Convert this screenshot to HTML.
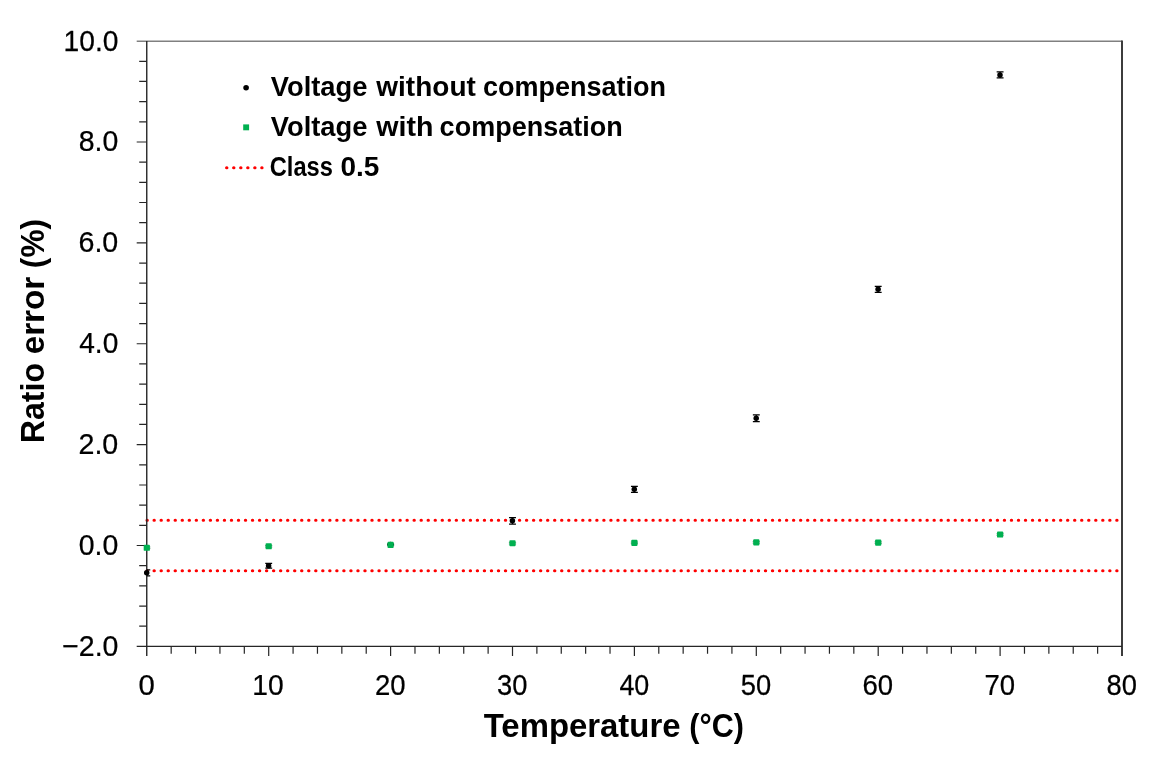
<!DOCTYPE html>
<html lang="en"><head><meta charset="utf-8"><title>Ratio error vs temperature</title>
<style>html,body{margin:0;padding:0;background:#fff}body{width:1161px;height:765px;overflow:hidden}svg{display:block}text{font-family:"Liberation Sans",sans-serif;fill:#000}.tk{font-size:29.0px;stroke:#000;stroke-width:0.25px}.lg{font-size:27.6px;font-weight:bold}.ti{font-size:33.9px;font-weight:bold}</style></head><body>
<svg width="1161" height="765" viewBox="0 0 1161 765">
<rect x="0" y="0" width="1161" height="765" fill="#fff"/>
<path d="M136.7 41.20H1122.0" fill="none" stroke="#808080" stroke-width="1.5"/>
<path d="M147.0 520.30H1121.0" fill="none" stroke="#ff0000" stroke-width="3.1" stroke-linecap="round" stroke-dasharray="0.3 6.727"/>
<path d="M147.0 570.74H1121.0" fill="none" stroke="#ff0000" stroke-width="3.1" stroke-linecap="round" stroke-dasharray="0.3 6.727"/>
<path d="M1122.0 40.5V656.0" fill="none" stroke="#3c3c3c" stroke-width="2"/>
<path d="M146.75 41.1V656.0" fill="none" stroke="#262626" stroke-width="1.4"/>
<path d="M136.7 646.4H1122.0" fill="none" stroke="#262626" stroke-width="1.3"/>
<path d="M139.2 626.22H146.8M139.2 606.05H146.8M139.2 585.87H146.8M139.2 565.69H146.8M136.7 545.52H146.8M139.2 525.34H146.8M139.2 505.16H146.8M139.2 484.99H146.8M139.2 464.81H146.8M136.7 444.63H146.8M139.2 424.46H146.8M139.2 404.28H146.8M139.2 384.10H146.8M139.2 363.93H146.8M136.7 343.75H146.8M139.2 323.57H146.8M139.2 303.40H146.8M139.2 283.22H146.8M139.2 263.04H146.8M136.7 242.87H146.8M139.2 222.69H146.8M139.2 202.51H146.8M139.2 182.34H146.8M139.2 162.16H146.8M136.7 141.98H146.8M139.2 121.81H146.8M139.2 101.63H146.8M139.2 81.45H146.8M139.2 61.28H146.8" fill="none" stroke="#262626" stroke-width="1.2"/>
<path d="M171.18 646.4V653.7M195.56 646.4V653.7M219.94 646.4V653.7M244.32 646.4V653.7M268.70 646.4V656.0M293.08 646.4V653.7M317.46 646.4V653.7M341.84 646.4V653.7M366.22 646.4V653.7M390.60 646.4V656.0M414.98 646.4V653.7M439.36 646.4V653.7M463.74 646.4V653.7M488.12 646.4V653.7M512.50 646.4V656.0M536.88 646.4V653.7M561.26 646.4V653.7M585.64 646.4V653.7M610.02 646.4V653.7M634.40 646.4V656.0M658.78 646.4V653.7M683.16 646.4V653.7M707.54 646.4V653.7M731.92 646.4V653.7M756.30 646.4V656.0M780.68 646.4V653.7M805.06 646.4V653.7M829.44 646.4V653.7M853.82 646.4V653.7M878.20 646.4V656.0M902.58 646.4V653.7M926.96 646.4V653.7M951.34 646.4V653.7M975.72 646.4V653.7M1000.10 646.4V656.0M1024.48 646.4V653.7M1048.86 646.4V653.7M1073.24 646.4V653.7M1097.62 646.4V653.7" fill="none" stroke="#262626" stroke-width="1.2"/>
<clipPath id="pc"><rect x="146.8" y="41.1" width="975.2" height="605.3"/></clipPath>
<g clip-path="url(#pc)" fill="none" stroke="#000" stroke-width="1.25">
<path d="M143.35 569.76h6.9M143.35 575.76h6.9M146.80 569.76v6.00"/>
<path d="M265.25 563.29h6.9M265.25 568.09h6.9M268.70 563.29v4.80"/>
<path d="M387.15 544.16h6.9M387.15 544.96h6.9M390.60 544.16v0.80"/>
<path d="M509.05 517.60h6.9M509.05 524.00h6.9M512.50 517.60v6.40"/>
<path d="M630.95 486.27h6.9M630.95 492.27h6.9M634.40 486.27v6.00"/>
<path d="M752.85 414.80h6.9M752.85 421.70h6.9M756.30 414.80v6.90"/>
<path d="M874.75 286.27h6.9M874.75 292.27h6.9M878.20 286.27v6.00"/>
<path d="M996.65 71.90h6.9M996.65 77.90h6.9M1000.10 71.90v6.00"/>
</g>
<circle cx="146.70" cy="572.76" r="2.75" fill="#000"/>
<circle cx="268.60" cy="565.69" r="2.75" fill="#000"/>
<circle cx="390.50" cy="544.56" r="2.75" fill="#000"/>
<circle cx="512.40" cy="520.80" r="2.75" fill="#000"/>
<circle cx="634.30" cy="489.27" r="2.75" fill="#000"/>
<circle cx="756.20" cy="418.25" r="2.75" fill="#000"/>
<circle cx="878.10" cy="289.27" r="2.75" fill="#000"/>
<circle cx="1000.00" cy="74.90" r="2.75" fill="#000"/>
<g clip-path="url(#pc)" fill="none" stroke="#1f6b40" stroke-width="0.9" opacity="0.7">
<path d="M143.20 546.99h7.2M143.20 548.59h7.2"/>
<path d="M265.10 545.47h7.2M265.10 547.07h7.2"/>
<path d="M387.00 544.06h7.2M387.00 545.66h7.2"/>
<path d="M508.90 542.40h7.2M508.90 544.00h7.2"/>
<path d="M630.80 542.09h7.2M630.80 543.69h7.2"/>
<path d="M752.70 541.59h7.2M752.70 543.19h7.2"/>
<path d="M874.60 541.79h7.2M874.60 543.39h7.2"/>
<path d="M996.50 533.72h7.2M996.50 535.32h7.2"/>
</g>
<rect x="143.70" y="544.74" width="6.2" height="6.1" rx="0.9" fill="#00b050"/>
<rect x="265.60" y="543.22" width="6.2" height="6.1" rx="0.9" fill="#00b050"/>
<rect x="387.50" y="541.81" width="6.2" height="6.1" rx="0.9" fill="#00b050"/>
<rect x="509.40" y="540.15" width="6.2" height="6.1" rx="0.9" fill="#00b050"/>
<rect x="631.30" y="539.84" width="6.2" height="6.1" rx="0.9" fill="#00b050"/>
<rect x="753.20" y="539.34" width="6.2" height="6.1" rx="0.9" fill="#00b050"/>
<rect x="875.10" y="539.54" width="6.2" height="6.1" rx="0.9" fill="#00b050"/>
<rect x="997.00" y="531.47" width="6.2" height="6.1" rx="0.9" fill="#00b050"/>
<circle cx="246.1" cy="87.7" r="2.8" fill="#000"/>
<rect x="243.2" y="124.4" width="5.9" height="5.9" fill="#00b050"/>
<path d="M226.6 167.7H262.5" fill="none" stroke="#ff0000" stroke-width="3.1" stroke-linecap="round" stroke-dasharray="0.3 6.73"/>
<text class="lg" transform="translate(270.85 95.50) scale(0.9896 1)">Voltage</text>
<text class="lg" transform="translate(376.30 95.50) scale(1.0148 1)">without</text>
<text class="lg" transform="translate(483.02 95.50) scale(0.9786 1)">compensation</text>
<text class="lg" transform="translate(270.85 135.80) scale(0.9896 1)">Voltage</text>
<text class="lg" transform="translate(376.30 135.80) scale(1.0355 1)">with</text>
<text class="lg" transform="translate(439.62 135.80) scale(0.9786 1)">compensation</text>
<text class="lg" transform="translate(269.73 175.50) scale(0.8575 1)">Class</text>
<text class="lg" transform="translate(340.39 175.50) scale(1.0137 1)">0.5</text>
<text class="ti" transform="translate(483.71 737.00) scale(0.9706 1)">Temperature</text>
<text class="ti" transform="translate(689.33 737.00) scale(0.8996 1)">(°C)</text>
<text class="ti" transform="translate(44.20 443.13) rotate(-90) scale(0.9457 1)">Ratio</text>
<text class="ti" transform="translate(44.20 354.33) rotate(-90) scale(0.9806 1)">error</text>
<text class="ti" transform="translate(44.20 268.13) rotate(-90) scale(0.9320 1)">(%)</text>
<text class="tk" transform="translate(63.56 50.60) scale(0.9717 1)">10.0</text>
<text class="tk" transform="translate(78.72 151.48) scale(0.9816 1)">8.0</text>
<text class="tk" transform="translate(78.47 252.37) scale(0.9881 1)">6.0</text>
<text class="tk" transform="translate(79.22 353.25) scale(0.9688 1)">4.0</text>
<text class="tk" transform="translate(78.47 454.13) scale(0.9881 1)">2.0</text>
<text class="tk" transform="translate(78.72 555.02) scale(0.9816 1)">0.0</text>
<text class="tk" transform="translate(62.17 655.90) scale(0.9835 1)">−2.0</text>
<text class="tk" transform="translate(138.39 695.20) scale(1.0109 1)">0</text>
<text class="tk" transform="translate(252.21 695.20) scale(0.9739 1)">10</text>
<text class="tk" transform="translate(374.88 695.20) scale(0.9492 1)">20</text>
<text class="tk" transform="translate(497.02 695.20) scale(0.9412 1)">30</text>
<text class="tk" transform="translate(619.41 695.20) scale(0.9256 1)">40</text>
<text class="tk" transform="translate(740.82 695.20) scale(0.9412 1)">50</text>
<text class="tk" transform="translate(862.48 695.20) scale(0.9492 1)">60</text>
<text class="tk" transform="translate(984.38 695.20) scale(0.9492 1)">70</text>
<text class="tk" transform="translate(1106.52 695.20) scale(0.9412 1)">80</text>
</svg></body></html>
